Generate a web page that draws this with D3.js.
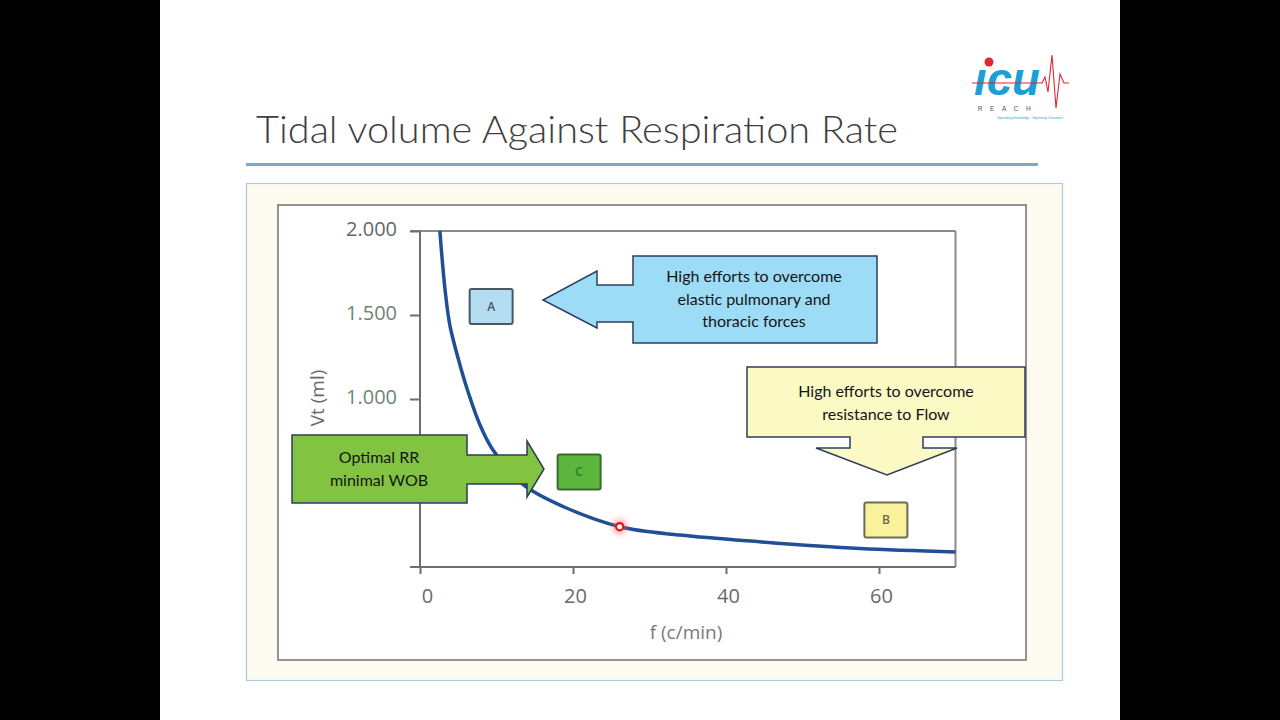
<!DOCTYPE html>
<html>
<head>
<meta charset="utf-8">
<script src="https://cdn.jsdelivr.net/npm/d3@7"></script>
<style>
  html, body { margin: 0; padding: 0; background: #000; }
  svg { display: block; }
</style>
</head>
<body>
<div id="chart"></div>
<script>
// curve: rate f (c/min) vs tidal volume Vt
var rateF = [2.6, 2.9, 3.3, 3.9, 5.0, 6.3, 7.8, 9.5, 13.5, 18.7, 26.1, 34.0, 44.4, 57.5, 70.0];
var volV  = [2.0, 1.83, 1.64, 1.44, 1.24, 1.04, 0.85, 0.70, 0.49, 0.36, 0.24, 0.19, 0.15, 0.11, 0.09];

var xTicks = [0, 20, 40, 60];
var yTicks = [1.0, 1.5, 2.0];

// zone markers A / B / C
var zoneNames = ["A", "C", "B"];
var zoneF = [9.3, 20.8, 60.9];
var zoneV = [1.55, 0.565, 0.28];

// optimum point (red dot)
var optF = 26.1;
var optV = 0.24;

var titleText = "Tidal volume Against Respiration Rate";
var xLabel = "f (c/min)";
var yLabel = "Vt (ml)";

var W = 1280, H = 720;

var svg = d3.select("#chart").append("svg")
    .attr("width", W)
    .attr("height", H);

var defs = svg.append("defs");
var glow = defs.append("filter").attr("id", "glow")
    .attr("x", "-100%").attr("y", "-100%").attr("width", "300%").attr("height", "300%");
glow.append("feGaussianBlur").attr("stdDeviation", 3);

// slide
svg.append("rect").attr("width", W).attr("height", H).attr("fill", "#000");
svg.append("rect").attr("x", 160).attr("y", 0).attr("width", 960).attr("height", H).attr("fill", "#fff");

// title
svg.append("text")
    .attr("x", 256).attr("y", 143)
    .attr("font-family", "Lato, 'Open Sans', sans-serif")
    .attr("font-weight", 300)
    .attr("font-size", 37)
    .attr("fill", "#3f3f3f")
    .attr("textLength", 642)
    .attr("lengthAdjust", "spacingAndGlyphs")
    .text(titleText);

svg.append("rect").attr("x", 246).attr("y", 163).attr("width", 792).attr("height", 3).attr("fill", "#7ea6c6");

// logo
var logo = svg.append("g").attr("transform", "translate(972,52)");
logo.append("text")
    .attr("x", 2).attr("y", 43)
    .attr("font-family", "'Liberation Sans', Arial, sans-serif")
    .attr("font-weight", "bold")
    .attr("font-style", "italic")
    .attr("font-size", 46)
    .attr("fill", "#1b9fd6")
    .attr("textLength", 66)
    .attr("lengthAdjust", "spacingAndGlyphs")
    .text("ıcu");
logo.append("circle").attr("cx", 17).attr("cy", 10).attr("r", 4.5).attr("fill", "#e0262f");
logo.append("path")
    .attr("d", "M0,31 L70,31 L73,25 L76,40 L80,3 L84,56 L88,22 L92,31 L97,31")
    .attr("fill", "none")
    .attr("stroke", "#e0262f")
    .attr("stroke-width", 1.1);
logo.append("text")
    .attr("x", 36).attr("y", 59)
    .attr("text-anchor", "middle")
    .attr("font-family", "'Liberation Sans', Arial, sans-serif")
    .attr("font-size", 6.5)
    .attr("letter-spacing", 7.5)
    .attr("fill", "#555")
    .text("REACH");
logo.append("text")
    .attr("x", 58).attr("y", 67)
    .attr("text-anchor", "middle")
    .attr("font-family", "'Liberation Sans', Arial, sans-serif")
    .attr("font-size", 3.3)
    .attr("fill", "#1b9fd6")
    .text("Spreading Knowledge \u00b7 Improving Outcomes");

// picture frame
svg.append("rect").attr("x", 246.5).attr("y", 183.5).attr("width", 816).attr("height", 497)
    .attr("fill", "#fdfbef").attr("stroke", "#a6ccd6").attr("stroke-width", 1.2);
svg.append("rect").attr("x", 278).attr("y", 205).attr("width", 748).attr("height", 455)
    .attr("fill", "#fff").attr("stroke", "#7a7a7a").attr("stroke-width", 1.6);

// scales
var x = d3.scaleLinear().domain([0, 70]).range([420, 955.5]);
var y = d3.scaleLinear().domain([0, 2]).range([567, 231]);

var axisCol = "#6f6f6f";
var tickFont = "'Open Sans', sans-serif";

// frame lines of the plot
var plot = svg.append("g");
plot.append("line").attr("x1", 410).attr("x2", x(70)).attr("y1", y(2)).attr("y2", y(2))
    .attr("stroke", "#8a8a8a").attr("stroke-width", 2);
plot.append("line").attr("x1", x(70)).attr("x2", x(70)).attr("y1", y(2)).attr("y2", y(0))
    .attr("stroke", "#8a8a8a").attr("stroke-width", 2);

var xAxis = svg.append("g")
    .attr("transform", "translate(0," + y(0) + ")")
    .call(d3.axisBottom(x).tickValues(xTicks).tickSize(7).tickSizeOuter(0).tickPadding(15));
xAxis.select(".domain").remove();
xAxis.append("line").attr("x1", 410).attr("x2", x(70)).attr("stroke", axisCol).attr("stroke-width", 2);
xAxis.selectAll(".tick line").attr("stroke", axisCol).attr("stroke-width", 2);
xAxis.selectAll(".tick text")
    .attr("font-family", tickFont).attr("font-size", 20).attr("fill", "#6a6a6a")
    .attr("dx", function (d) { return d === 0 ? 7 : 2; });

var yAxis = svg.append("g")
    .attr("transform", "translate(" + x(0) + ",0)")
    .call(d3.axisLeft(y).tickValues(yTicks).tickSize(10).tickSizeOuter(0).tickPadding(13)
        .tickFormat(d3.format(".3f")));
yAxis.select(".domain").remove();
yAxis.append("line").attr("y1", y(2)).attr("y2", y(0)).attr("stroke", axisCol).attr("stroke-width", 2);
yAxis.selectAll(".tick line").attr("stroke", axisCol).attr("stroke-width", 2);
yAxis.selectAll(".tick text")
    .attr("font-family", tickFont).attr("font-size", 20)
    .attr("fill", function (d) { return d === 2 ? "#666" : "#6f8474"; })
    .attr("dy", "0.22em");

// axis titles
svg.append("text")
    .attr("x", 686).attr("y", 639)
    .attr("text-anchor", "middle")
    .attr("font-family", tickFont).attr("font-size", 19).attr("fill", "#7a7a7a")
    .text(xLabel);
svg.append("text")
    .attr("transform", "translate(324,398) rotate(-90)")
    .attr("text-anchor", "middle")
    .attr("font-family", tickFont).attr("font-size", 19).attr("fill", "#6a6a6a")
    .text(yLabel);

// the curve
var pts = rateF.map(function (f, i) { return [f, volV[i]]; });
var line = d3.line()
    .x(function (d) { return x(d[0]); })
    .y(function (d) { return y(d[1]); })
    .curve(d3.curveCatmullRom.alpha(0.5));
svg.append("path")
    .datum(pts)
    .attr("d", line)
    .attr("fill", "none")
    .attr("stroke", "#1f4f95")
    .attr("stroke-width", 3.5);

// zone boxes
var zoneFill = { A: "#b3dcf3", B: "#f8f29c", C: "#5cb53c" };
var zoneStroke = { A: "#4d5760", B: "#6d6b55", C: "#386b2a" };
var zoneText = { A: "#4a5560", B: "#6a6650", C: "#2f7a2a" };
var zones = svg.selectAll("g.zone")
    .data(zoneNames)
    .enter().append("g")
    .attr("class", "zone")
    .attr("transform", function (d, i) { return "translate(" + x(zoneF[i]) + "," + y(zoneV[i]) + ")"; });
zones.append("rect")
    .attr("x", -21.5).attr("y", -17.5).attr("width", 43).attr("height", 35).attr("rx", 2)
    .attr("fill", function (d) { return zoneFill[d]; })
    .attr("stroke", function (d) { return zoneStroke[d]; })
    .attr("stroke-width", 2);
zones.append("text")
    .attr("text-anchor", "middle").attr("dy", "0.36em")
    .attr("font-family", tickFont).attr("font-size", 12).attr("font-weight", 600)
    .attr("fill", function (d) { return zoneText[d]; })
    .text(function (d) { return d; });

// callouts
var calloutFont = "Lato, 'Open Sans', sans-serif";
function callout(pathD, fill, lines, cx, cy0) {
  svg.append("path")
      .attr("d", pathD)
      .attr("fill", fill)
      .attr("stroke", "#2c3e5e")
      .attr("stroke-width", 1.5)
      .attr("stroke-linejoin", "miter");
  svg.append("text")
      .attr("text-anchor", "middle")
      .attr("font-family", calloutFont).attr("font-size", 16).attr("fill", "#151515")
      .selectAll("tspan").data(lines).enter().append("tspan")
      .attr("x", cx)
      .attr("y", function (d, i) { return cy0 + i * 22.5; })
      .text(function (d) { return d; });
}

// blue, pointing left at zone A
callout("M633,256 L877,256 L877,343 L633,343 L633,322 L597,322 L597,328 L543,300 L597,271 L597,285 L633,285 Z",
    "#9ddcf6", ["High efforts to overcome", "elastic pulmonary and", "thoracic forces"], 754, 282);

// yellow, pointing down at zone B
callout("M747,367 L1025,367 L1025,437 L923,437 L923,448 L957,448 L887,475 L816,448 L850,448 L850,437 L747,437 Z",
    "#fbf9c4", ["High efforts to overcome", "resistance to Flow"], 886, 397);

// green, pointing right at zone C
callout("M292,435 L467,435 L467,455 L527,455 L527,441 L544,469 L527,497 L527,484 L467,484 L467,503 L292,503 Z",
    "#82c341", ["Optimal RR", "minimal WOB"], 379, 463);

// optimum point
svg.append("circle")
    .attr("cx", x(optF)).attr("cy", y(optV)).attr("r", 7)
    .attr("fill", "#ff5a5a").attr("opacity", 0.6)
    .attr("filter", "url(#glow)");
svg.append("circle")
    .attr("cx", x(optF)).attr("cy", y(optV)).attr("r", 3.6)
    .attr("fill", "#fff").attr("stroke", "#e3141b").attr("stroke-width", 2.2);
</script>
</body>
</html>
